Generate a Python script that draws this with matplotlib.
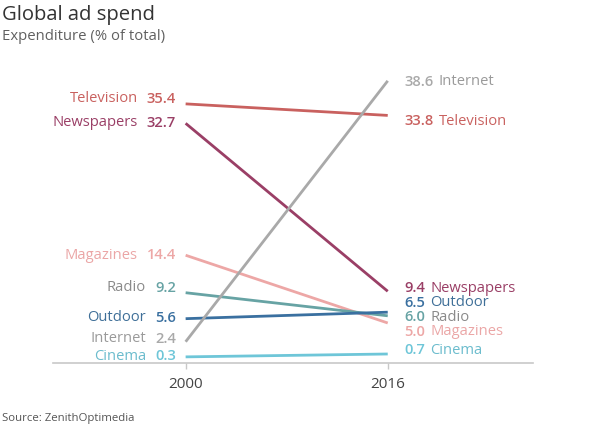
import matplotlib
matplotlib.use("Agg")
import matplotlib.pyplot as plt

# ---- data ----
years = [2000, 2016]
media = ["Television", "Newspapers", "Magazines", "Radio", "Outdoor", "Internet", "Cinema"]
share_2000 = [35.4, 32.7, 14.4, 9.2, 5.6, 2.4, 0.3]
share_2016 = [33.8, 9.4, 5.0, 6.0, 6.5, 38.6, 0.7]
source = "Source: ZenithOptimedia"

# ---- styling ----
line_colors = {
    "Television": "#c9615f",
    "Newspapers": "#9a3f66",
    "Magazines": "#eda7a6",
    "Radio": "#67a3a4",
    "Outdoor": "#3a70a0",
    "Internet": "#a9a9a9",
    "Cinema": "#6ec6d8",
}
name_colors = {
    "Television": "#c9615f",
    "Newspapers": "#9a3f66",
    "Magazines": "#eba6a6",
    "Radio": "#8a8a8a",
    "Outdoor": "#3f6f98",
    "Internet": "#9a9a9a",
    "Cinema": "#6bbccd",
}
# label placement (data units) to avoid overlaps
left_label_y = {"Television": 36.1, "Newspapers": 32.8, "Magazines": 14.4, "Radio": 9.9,
                "Outdoor": 5.7, "Internet": 2.8, "Cinema": 0.4}
right_label_y = {"Television": 33.0, "Newspapers": 9.8, "Magazines": 3.8, "Radio": 5.8,
                 "Outdoor": 7.8, "Internet": 38.5, "Cinema": 1.2}

FONT = "Open Sans"
plt.rcParams["font.family"] = [FONT, "DejaVu Sans"]
LBL = 10.6

fig = plt.figure(figsize=(6, 4.26), dpi=100)
ax = fig.add_axes([53 / 600, 1 - 363 / 426, 480 / 600, (363 - 70) / 426])
ax.set_xlim(1989.5, 2027.5)
ax.set_ylim(-0.55, 40.1)

for m, a, b in zip(media, share_2000, share_2016):
    ax.plot(years, [a, b], color=line_colors[m], lw=2.0, solid_capstyle="butt", zorder=3)

for m, a, b in zip(media, share_2000, share_2016):
    # left labels
    vt = ax.annotate(f"{a:.1f}", xy=(years[0], left_label_y[m]), xytext=(-7, 0),
                     textcoords="offset points", ha="right", va="center",
                     fontsize=LBL, fontweight="semibold", color=line_colors[m])
    ax.annotate(m, xy=(0, 0.5), xycoords=vt, xytext=(-6.5, 0), textcoords="offset points",
                ha="right", va="center", fontsize=LBL, color=name_colors[m])
    # right labels
    vt2 = ax.annotate(f"{b:.1f}", xy=(years[1], right_label_y[m]), xytext=(12, 0),
                      textcoords="offset points", ha="left", va="center",
                      fontsize=LBL, fontweight="semibold", color=line_colors[m])
    ax.annotate(m, xy=(1, 0.5), xycoords=vt2, xytext=(3.5, 0), textcoords="offset points",
                ha="left", va="center", fontsize=LBL, color=name_colors[m])

for s in ["top", "right", "left"]:
    ax.spines[s].set_visible(False)
ax.spines["bottom"].set_color("#c8c8c8")
ax.spines["bottom"].set_linewidth(1.2)
ax.set_yticks([])
ax.set_xticks(years)
ax.set_xticklabels([str(y) for y in years])
ax.tick_params(axis="x", colors="#c8c8c8", length=4, width=1, labelsize=11, labelcolor="#444444", pad=6)

fig.text(2 / 600, 1 - 15 / 426, "Global ad spend", fontsize=14.6, color="#333333", va="center", ha="left")
fig.text(2 / 600, 1 - 37 / 426, "Expenditure (% of total)", fontsize=10.7, color="#606060", va="center", ha="left")
fig.text(2 / 600, 1 - 419 / 426, source, fontsize=8.2, color="#555555", va="center", ha="left")

fig.savefig("out.png", dpi=100, facecolor="white")
